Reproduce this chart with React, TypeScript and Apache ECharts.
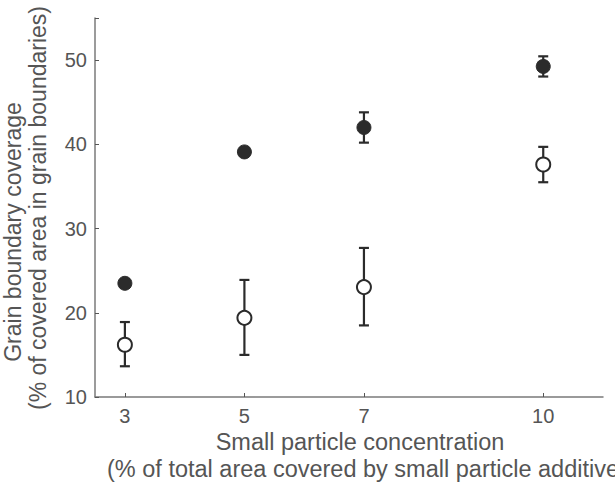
import React, { useEffect, useRef } from "react";
import * as echarts from "echarts";

const xValues = [3, 5, 7, 10];
const filledMean = [23.5, 39.1, 42.0, 49.25];
const filledLow = [23.0, 38.7, 40.2, 48.05];
const filledHigh = [24.0, 39.5, 43.8, 50.45];
const openMean = [16.2, 19.4, 23.05, 37.6];
const openLow = [13.65, 15.0, 18.5, 35.5];
const openHigh = [18.9, 23.9, 27.7, 39.7];
const xTicks = [3, 5, 7, 10];

const FONT = "'Liberation Sans', Arial, Helvetica, sans-serif";
const TEXT = "#555555";
const INK = "#2b2b2b";

function errorSeries(low: number[], high: number[]) {
  return {
    type: "custom",
    z: 1,
    silent: true,
    data: xValues.map((x, i) => [x, low[i], high[i]]),
    encode: { x: 0, y: [1, 2] },
    renderItem: (params: any, api: any) => {
      const x = api.value(0);
      const lo = api.coord([x, api.value(1)]);
      const hi = api.coord([x, api.value(2)]);
      const w = 5;
      const style = { stroke: INK, lineWidth: 2.2, fill: "none" };
      return {
        type: "group",
        children: [
          { type: "line", shape: { x1: lo[0], y1: lo[1], x2: hi[0], y2: hi[1] }, style },
          { type: "line", shape: { x1: lo[0] - w, y1: lo[1], x2: lo[0] + w, y2: lo[1] }, style },
          { type: "line", shape: { x1: hi[0] - w, y1: hi[1], x2: hi[0] + w, y2: hi[1] }, style },
        ],
      };
    },
  };
}

export default function App() {
  const ref = useRef<HTMLDivElement>(null);
  useEffect(() => {
    if (!ref.current) return;
    const chart = echarts.init(ref.current, null, { renderer: "svg" });
    chart.setOption({
      animation: false,
      backgroundColor: "#ffffff",
      grid: { left: 95, right: 12, top: 18, bottom: 87 },
      xAxis: {
        type: "value",
        min: 2.5,
        max: 11,
        splitLine: { show: false },
        axisLine: { show: true, onZero: false, lineStyle: { color: "#7a7a7a", width: 1.5 } },
        axisTick: { show: true, inside: true, length: 4, customValues: xTicks, lineStyle: { color: "#555", width: 1 } },
        axisLabel: {
          customValues: xTicks,
          color: TEXT,
          fontFamily: FONT,
          fontSize: 20,
          margin: 9,
        },
      },
      yAxis: {
        type: "value",
        min: 10,
        max: 55,
        interval: 10,
        splitLine: { show: false },
        axisLine: { show: true, onZero: false, lineStyle: { color: "#7a7a7a", width: 1.5 } },
        axisTick: { show: true, inside: true, length: 4, lineStyle: { color: "#555", width: 1 } },
        axisLabel: {
          color: TEXT,
          fontFamily: FONT,
          fontSize: 20,
          margin: 8,
          formatter: (v: number) => (v > 50 ? "" : String(v)),
        },
      },
      graphic: [
        {
          type: "text",
          x: 13,
          y: 232,
          rotation: Math.PI / 2,
          style: {
            text: "Grain boundary coverage",
            fill: TEXT,
            font: `23px ${FONT}`,
            textAlign: "center",
            textVerticalAlign: "middle",
          },
        },
        {
          type: "text",
          x: 38,
          y: 208,
          rotation: Math.PI / 2,
          style: {
            text: "(% of covered area in grain boundaries)",
            fill: TEXT,
            font: `23px ${FONT}`,
            textAlign: "center",
            textVerticalAlign: "middle",
          },
        },
        {
          type: "text",
          x: 360,
          y: 442,
          style: {
            text: "Small particle concentration",
            fill: TEXT,
            font: `23.5px ${FONT}`,
            textAlign: "center",
            textVerticalAlign: "middle",
          },
        },
        {
          type: "text",
          x: 107,
          y: 469,
          style: {
            text: "(% of total area covered by small particle additives)",
            fill: TEXT,
            font: `23.5px ${FONT}`,
            textAlign: "left",
            textVerticalAlign: "middle",
          },
        },
      ],
      series: [
        errorSeries(filledLow, filledHigh),
        errorSeries(openLow, openHigh),
        {
          type: "scatter",
          z: 3,
          symbol: "circle",
          symbolSize: 14,
          itemStyle: { color: INK, borderColor: INK, borderWidth: 1, opacity: 1 },
          data: xValues.map((x, i) => [x, filledMean[i]]),
        },
        {
          type: "scatter",
          z: 3,
          symbol: "circle",
          symbolSize: 14,
          itemStyle: { color: "#ffffff", borderColor: INK, borderWidth: 2, opacity: 1 },
          data: xValues.map((x, i) => [x, openMean[i]]),
        },
      ],
    });
    return () => chart.dispose();
  }, []);
  return <div ref={ref} style={{ width: 615, height: 484, position: "absolute", left: 0, top: 0 }} />;
}
